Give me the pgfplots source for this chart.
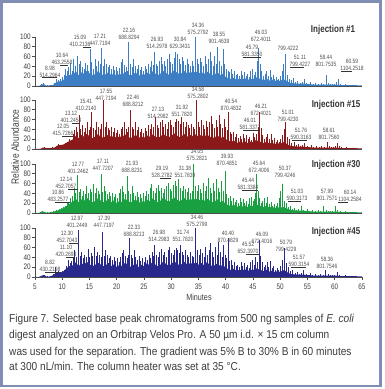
\documentclass[border=0pt]{standalone}
\usepackage{pgfplots}
\pgfplotsset{compat=1.18}
\usepackage{fontspec}
\setmainfont{Liberation Sans}
\newfontfamily\nf{Liberation Sans}[FakeStretch=0.8]
\newfontfamily\cf{Liberation Sans}[FakeStretch=0.88]
\definecolor{cA}{RGB}{60,125,195}
\definecolor{cB}{RGB}{140,25,25}
\definecolor{cC}{RGB}{25,160,65}
\definecolor{cD}{RGB}{40,40,140}
\definecolor{framec}{RGB}{128,142,180}
\definecolor{labc}{RGB}{80,80,80}
\definecolor{capc}{RGB}{60,60,60}
\pgfplotsset{panel/.style={scale only axis, width=327pt, height=49pt, xmin=5, xmax=65, ymin=0, ymax=100,
  axis x line=bottom, axis y line=left, axis line style={-, black!70, line width=0.6pt},
  ytick={0,20,...,100}, tick align=outside, major tick length=3pt, tick style={black!70, line width=0.6pt},
  yticklabel style={font=\nf\fontsize{8}{9}\selectfont, text=black!75, inner sep=1pt},
  xticklabel style={font=\nf\fontsize{8}{9}\selectfont, text=black!75},
  /pgf/number format/assume math mode=true, clip=false, anchor=south west},
  spk/.style={ycomb, line width=0.7pt, no marks}}
\tikzset{lab/.style={font=\nf\fontsize{6.2}{7}\selectfont, text=labc, align=center, inner sep=0pt},
  inj/.style={font=\nf\bfseries\fontsize{10}{12}\selectfont, text=black!80, inner sep=0pt},
  ld/.style={black!80, line width=0.5pt}}
\begin{document}
\begin{tikzpicture}[x=1pt,y=1pt]
\useasboundingbox (0,0) rectangle (384,389);
\draw[framec, line width=2.5pt] (1.5,3) rectangle (380.5,387.5);
% Panel 1
\begin{axis}[panel, at={(35pt,303pt)}, xtick=\empty]
\addplot[fill=cA, draw=none] coordinates {(5,0)(5.8,0.5)(6.2,3)(6.6,4)(7,1)(7.5,1)(8.3,2)(8.7,6)(9.2,9)(9.8,10)(10.4,14)(10.7,20)(11.2,22)(12,24)(12.5,30)(13,22)(13.5,28)(14,25)(14.5,31)(15,26)(15.5,22)(16,24)(16.5,30)(17,26)(17.5,22)(18,24)(18.5,29)(19,22)(19.5,26)(20,20)(20.5,25)(21,22)(21.5,29)(22,26)(22.5,21)(23,24)(23.5,28)(24,20)(24.5,25)(25,22)(25.5,28)(26,24)(26.5,30)(27,26)(27.5,22)(28,25)(28.5,31)(29,27)(29.5,23)(30,26)(30.5,32)(31,28)(31.5,24)(32,27)(32.5,31)(33,24)(33.5,29)(34,26)(34.5,30)(35,25)(35.5,29)(36,24)(36.5,30)(37,26)(37.5,22)(38,24)(38.5,28)(39,22)(39.5,25)(40,18)(40.5,16)(41,14)(41.5,17)(42,12)(42.5,15)(43,13)(43.5,16)(44,12)(44.5,15)(45,14)(45.5,18)(46,16)(46.5,14)(47,12)(47.5,15)(48,11)(48.5,13)(49,10)(49.5,12)(50,10)(50.5,14)(51,12)(51.5,8)(52,6)(53,5)(54,5)(55,4)(56,3)(57,3)(58,3)(59,3)(60,3)(61,2)(62,2)(63,2)(64,1.5)(65,1)} \closedcycle;
\addplot[spk, cA] coordinates {(6.1,4)(6.5,6)(7.3,3)(7.9,3)(8.5,6)(8.98,15)(9.3,12)(9.7,14)(10.1,18)(10.4,22)(10.64,35)(10.9,30)(11.2,38)(11.5,46)(11.8,30)(12.1,55)(12.4,40)(12.8,62)(13.1,45)(13.4,52)(13.7,38)(14.0,35)(14.3,46)(14.6,42)(14.85,30)(15.09,75)(15.4,48)(15.7,35)(16.0,56)(16.3,40)(16.6,50)(16.9,45)(17.21,78)(17.5,40)(17.8,55)(18.1,45)(18.4,38)(18.7,42)(19.0,35)(19.3,40)(19.6,32)(19.9,38)(20.2,30)(20.5,36)(20.8,48)(21.1,56)(21.4,42)(21.7,38)(21.95,30)(22.16,90)(22.5,45)(22.8,38)(23.1,55)(23.4,40)(23.7,35)(24.0,42)(24.3,32)(24.6,38)(24.9,30)(25.2,40)(25.5,35)(25.8,45)(26.1,38)(26.4,50)(26.7,42)(26.93,70)(27.2,45)(27.5,40)(27.8,52)(28.1,60)(28.4,45)(28.7,50)(29.0,40)(29.3,55)(29.6,65)(29.9,48)(30.2,45)(30.5,58)(30.84,70)(31.1,66)(31.4,55)(31.7,45)(32.0,60)(32.3,50)(32.6,42)(32.9,55)(33.2,45)(33.5,40)(33.8,50)(34.1,40)(34.36,100)(34.7,55)(35.0,45)(35.3,58)(35.6,48)(35.9,40)(36.2,62)(36.5,45)(36.8,55)(37.1,70)(37.4,50)(37.7,40)(38.0,62)(38.3,45)(38.55,80)(38.9,50)(39.2,40)(39.5,75)(39.8,45)(40.1,35)(40.4,30)(40.7,28)(41.0,35)(41.3,25)(41.6,30)(41.9,22)(42.2,25)(42.5,20)(42.8,30)(43.1,22)(43.4,28)(43.7,20)(44.0,25)(44.3,18)(44.6,30)(44.9,35)(45.2,22)(45.5,28)(45.79,50)(46.03,78)(46.3,45)(46.6,30)(46.9,20)(47.2,25)(47.5,30)(47.8,20)(48.1,32)(48.4,18)(48.7,22)(49.0,15)(49.3,18)(49.6,14)(50.0,20)(50.3,30)(50.6,45)(50.9,65)(51.3,22)(51.7,14)(52.0,12)(52.4,16)(52.8,8)(53.2,10)(53.6,6)(54.0,8)(54.4,14)(54.8,6)(55.2,5)(55.6,8)(56.0,5)(56.5,6)(57.0,5)(57.5,6)(58.0,5)(58.44,22)(58.8,6)(59.2,5)(59.6,4)(60.0,5)(60.3,8)(60.59,15)(61.0,4)(61.5,3)(62.0,5)(62.5,3)(63.0,3)(63.5,2)(64.0,3)};
\end{axis}
% Panel 2
\begin{axis}[panel, at={(35pt,240pt)}, xtick=\empty]
\addplot[fill=cB, draw=none] coordinates {(5,0)(6,0.5)(6.5,3)(7,2)(7.8,2)(8.6,3)(9.1,7)(9.6,8)(10.2,9)(10.8,13)(11.3,16)(12,20)(12.5,27)(13,22)(13.5,29)(14,25)(14.5,31)(15,26)(15.5,22)(16,25)(16.5,30)(17,26)(17.5,23)(18,26)(18.5,30)(19,24)(19.5,27)(20,22)(20.5,26)(21,24)(21.5,30)(22,26)(22.5,22)(23,25)(23.5,29)(24,22)(24.5,26)(25,23)(25.5,28)(26,25)(26.5,30)(27,26)(27.5,23)(28,25)(28.5,31)(29,27)(29.5,24)(30,26)(30.5,32)(31,28)(31.5,24)(32,27)(32.5,31)(33,25)(33.5,29)(34,26)(34.5,30)(35,25)(35.5,29)(36,24)(36.5,30)(37,26)(37.5,22)(38,24)(38.5,28)(39,22)(39.5,25)(40,20)(40.5,17)(41,15)(41.5,17)(42,12)(42.5,15)(43,13)(43.5,16)(44,12)(44.5,15)(45,14)(45.5,18)(46,16)(46.5,14)(47,12)(47.5,15)(48,11)(48.5,13)(49,10)(49.5,12)(50,10)(50.5,14)(51,12)(51.5,8)(52,6)(53,5)(54,5)(55,4)(56,3)(57,3)(58,3)(59,3)(60,3)(61,2)(62,2)(63,2)(64,1.5)(65,1)} \closedcycle;
\addplot[spk, cB] coordinates {(6.3,3)(6.8,5)(7.5,3)(8.2,4)(8.8,5)(9.3,10)(9.7,8)(10.1,9)(10.5,12)(10.9,15)(11.3,20)(11.6,18)(12.05,30)(12.3,38)(12.6,45)(12.85,35)(13.12,70)(13.4,40)(13.7,48)(14.0,35)(14.3,42)(14.6,55)(14.9,38)(15.15,45)(15.41,75)(15.7,42)(16.0,38)(16.3,55)(16.6,45)(16.9,40)(17.2,50)(17.55,100)(17.85,45)(18.1,55)(18.4,42)(18.7,38)(19.0,45)(19.3,35)(19.6,42)(19.9,32)(20.2,38)(20.5,30)(20.8,40)(21.1,45)(21.4,55)(21.7,40)(22.0,35)(22.2,45)(22.46,80)(22.8,45)(23.1,40)(23.4,55)(23.7,38)(24.0,45)(24.3,35)(24.6,40)(24.9,32)(25.2,42)(25.5,36)(25.8,48)(26.1,40)(26.4,52)(26.7,45)(27.13,65)(27.4,48)(27.7,42)(28.0,55)(28.3,60)(28.6,45)(28.9,50)(29.2,40)(29.5,55)(29.8,60)(30.1,48)(30.4,45)(30.7,55)(31.0,62)(31.3,58)(31.6,50)(31.92,65)(32.2,55)(32.5,45)(32.8,55)(33.1,48)(33.4,42)(33.7,52)(34.0,45)(34.3,40)(34.58,100)(34.9,55)(35.2,45)(35.5,60)(35.8,48)(36.1,40)(36.4,58)(36.7,45)(37.0,55)(37.3,68)(37.6,50)(37.9,42)(38.2,60)(38.5,45)(38.8,70)(39.1,50)(39.4,42)(39.7,62)(40.0,45)(40.25,38)(40.54,75)(40.8,35)(41.1,30)(41.4,35)(41.7,25)(42.0,30)(42.3,22)(42.6,26)(42.9,20)(43.2,30)(43.5,22)(43.8,28)(44.1,20)(44.4,25)(44.7,18)(45.0,32)(45.3,25)(45.6,30)(46.01,45)(46.21,75)(46.5,42)(46.8,28)(47.1,20)(47.4,25)(47.7,30)(48.0,20)(48.3,30)(48.6,18)(48.9,22)(49.2,15)(49.5,18)(49.8,14)(50.1,20)(50.4,28)(50.7,40)(51.01,55)(51.3,25)(51.76,20)(52.1,12)(52.5,15)(52.9,8)(53.3,10)(53.7,6)(54.1,8)(54.5,12)(54.9,6)(55.3,5)(55.7,8)(56.1,5)(56.6,6)(57.1,5)(57.6,6)(58.1,5)(58.61,15)(59.0,6)(59.4,5)(59.8,4)(60.2,6)(60.5,12)(60.8,6)(61.2,4)(61.7,3)(62.2,4)(62.7,3)(63.2,3)(63.7,2)(64.2,3)};
\end{axis}
% Panel 3
\begin{axis}[panel, at={(35pt,176pt)}, xtick=\empty]
\addplot[fill=cC, draw=none] coordinates {(5,0)(5.8,0.5)(6.2,3)(6.6,3)(7,1)(7.5,1)(8.3,2)(8.8,4)(9.4,6)(10,9)(10.5,12)(11,16)(11.5,20)(12,24)(12.5,29)(13,22)(13.5,28)(14,25)(14.5,31)(15,26)(15.5,22)(16,24)(16.5,30)(17,26)(17.5,22)(18,24)(18.5,29)(19,22)(19.5,26)(20,20)(20.5,25)(21,22)(21.5,29)(22,26)(22.5,21)(23,24)(23.5,28)(24,20)(24.5,25)(25,22)(25.5,28)(26,24)(26.5,30)(27,26)(27.5,22)(28,25)(28.5,31)(29,27)(29.5,23)(30,26)(30.5,32)(31,28)(31.5,24)(32,27)(32.5,31)(33,24)(33.5,29)(34,26)(34.5,30)(35,25)(35.5,29)(36,24)(36.5,30)(37,26)(37.5,22)(38,24)(38.5,28)(39,22)(39.5,25)(40,18)(40.5,16)(41,14)(41.5,17)(42,12)(42.5,15)(43,13)(43.5,16)(44,12)(44.5,15)(45,14)(45.5,18)(46,16)(46.5,14)(47,12)(47.5,15)(48,11)(48.5,13)(49,10)(49.5,12)(50,10)(50.5,13)(51,10)(51.5,8)(52,6)(53,5)(54,5)(55,4)(56,3)(57,3)(58,3)(59,3)(60,3)(61,2)(62,2)(63,2)(64,1.5)(65,1)} \closedcycle;
\addplot[spk, cC] coordinates {(6.0,3)(6.4,5)(7.2,3)(7.8,3)(8.4,4)(8.9,6)(9.4,8)(9.8,10)(10.2,12)(10.5,14)(10.86,20)(11.2,22)(11.5,30)(11.8,35)(12.14,50)(12.45,40)(12.77,78)(13.05,42)(13.3,48)(13.6,35)(13.9,45)(14.2,38)(14.5,55)(14.8,40)(15.1,48)(15.4,42)(15.7,60)(16.0,40)(16.3,50)(16.6,45)(16.85,38)(17.11,80)(17.4,42)(17.7,55)(18.0,45)(18.3,38)(18.6,42)(18.9,35)(19.2,40)(19.5,32)(19.8,38)(20.1,30)(20.4,40)(20.7,48)(21.0,55)(21.3,42)(21.6,38)(21.93,75)(22.2,45)(22.5,38)(22.8,55)(23.1,40)(23.4,35)(23.7,42)(24.0,32)(24.3,38)(24.6,30)(24.9,40)(25.2,35)(25.5,45)(25.8,38)(26.1,50)(26.4,60)(26.7,45)(27.0,40)(27.3,52)(27.6,58)(27.9,45)(28.2,50)(28.5,40)(28.8,48)(29.19,55)(29.5,62)(29.8,48)(30.1,45)(30.4,58)(30.7,65)(31.0,55)(31.38,70)(31.7,50)(32.0,45)(32.3,55)(32.6,48)(32.9,42)(33.2,50)(33.5,40)(33.8,45)(34.05,100)(34.4,55)(34.7,45)(35.0,58)(35.3,48)(35.6,40)(35.9,62)(36.2,45)(36.5,55)(36.8,72)(37.1,50)(37.4,40)(37.7,62)(38.0,45)(38.3,70)(38.6,50)(38.9,42)(39.2,65)(39.5,45)(39.93,85)(40.2,38)(40.5,30)(40.8,35)(41.1,25)(41.4,30)(41.7,22)(42.0,26)(42.3,20)(42.6,30)(42.9,22)(43.2,28)(43.5,20)(43.8,25)(44.1,18)(44.4,30)(44.7,32)(45.0,25)(45.2,28)(45.44,40)(45.64,80)(45.9,45)(46.2,30)(46.5,20)(46.8,25)(47.1,30)(47.4,20)(47.7,32)(48.0,18)(48.3,22)(48.6,15)(48.9,18)(49.2,14)(49.5,20)(49.8,30)(50.1,45)(50.37,60)(50.7,25)(51.03,20)(51.4,12)(51.8,15)(52.2,8)(52.6,10)(53.0,6)(53.4,8)(53.8,14)(54.2,6)(54.6,5)(55.0,8)(55.4,5)(55.9,6)(56.4,5)(56.9,6)(57.4,5)(57.99,15)(58.4,6)(58.8,5)(59.2,4)(59.6,5)(60.14,15)(60.5,6)(61.0,4)(61.5,3)(62.0,5)(62.5,3)(63.0,3)(63.5,2)(64.0,3)};
\end{axis}
% Panel 4
\begin{axis}[panel, at={(35pt,112pt)}, xtick={5,10,...,65}]
\addplot[fill=cD, draw=none] coordinates {(5,0)(5.8,0.5)(6.3,3)(6.7,4)(7.1,1)(7.6,1)(8.2,3)(8.6,6)(9.1,9)(9.7,9)(10.3,12)(10.8,18)(11.3,22)(12,24)(12.5,30)(13,22)(13.5,28)(14,25)(14.5,31)(15,26)(15.5,22)(16,24)(16.5,30)(17,26)(17.5,22)(18,24)(18.5,29)(19,22)(19.5,26)(20,20)(20.5,25)(21,22)(21.5,29)(22,26)(22.5,21)(23,24)(23.5,28)(24,20)(24.5,25)(25,22)(25.5,28)(26,24)(26.5,30)(27,26)(27.5,22)(28,25)(28.5,31)(29,27)(29.5,23)(30,26)(30.5,32)(31,28)(31.5,24)(32,27)(32.5,31)(33,24)(33.5,29)(34,26)(34.5,30)(35,25)(35.5,29)(36,24)(36.5,30)(37,26)(37.5,22)(38,24)(38.5,28)(39,22)(39.5,25)(40,18)(40.5,16)(41,14)(41.5,17)(42,12)(42.5,15)(43,13)(43.5,16)(44,12)(44.5,15)(45,14)(45.5,18)(46,16)(46.5,14)(47,12)(47.5,15)(48,11)(48.5,13)(49,10)(49.5,12)(50,10)(50.5,14)(51,12)(51.5,8)(52,6)(53,5)(54,5)(55,4)(56,3)(57,3)(58,3)(59,3)(60,3)(61,2)(62,2)(63,2)(64,1.5)(65,1)} \closedcycle;
\addplot[spk, cD] coordinates {(6.2,3)(6.6,5)(7.3,3)(7.9,3)(8.4,6)(8.82,20)(9.2,12)(9.6,10)(10.0,12)(10.4,15)(10.8,22)(11.10,35)(11.4,28)(11.7,32)(12.0,38)(12.30,55)(12.6,40)(12.97,95)(13.25,42)(13.5,50)(13.8,38)(14.1,45)(14.4,40)(14.7,58)(15.0,40)(15.3,48)(15.6,42)(15.9,62)(16.2,42)(16.5,50)(16.8,45)(17.1,40)(17.39,92)(17.7,42)(18.0,55)(18.3,45)(18.6,38)(18.9,42)(19.2,35)(19.5,40)(19.8,32)(20.1,38)(20.4,30)(20.7,40)(21.0,48)(21.3,55)(21.6,42)(21.9,38)(22.1,45)(22.33,80)(22.6,45)(22.9,38)(23.2,55)(23.5,40)(23.8,35)(24.1,42)(24.4,32)(24.7,38)(25.0,30)(25.3,40)(25.6,35)(25.9,45)(26.2,38)(26.5,50)(26.75,42)(26.98,65)(27.3,45)(27.6,40)(27.9,52)(28.2,58)(28.5,45)(28.8,50)(29.1,40)(29.4,55)(29.7,62)(30.0,48)(30.3,45)(30.6,56)(30.9,60)(31.2,55)(31.5,48)(31.74,65)(32.0,50)(32.3,45)(32.6,55)(32.9,45)(33.2,40)(33.5,50)(33.8,42)(34.1,40)(34.46,100)(34.8,55)(35.1,45)(35.4,58)(35.7,48)(36.0,40)(36.3,62)(36.6,45)(36.9,55)(37.2,70)(37.5,50)(37.8,40)(38.1,62)(38.4,45)(38.7,72)(39.0,50)(39.3,40)(39.6,65)(39.9,45)(40.15,38)(40.40,80)(40.7,32)(41.0,35)(41.3,25)(41.6,30)(41.9,22)(42.2,25)(42.5,20)(42.8,30)(43.1,22)(43.4,28)(43.7,20)(44.0,25)(44.3,18)(44.6,30)(44.9,35)(45.2,24)(45.52,40)(45.8,30)(46.09,75)(46.4,42)(46.7,30)(47.0,20)(47.3,25)(47.6,30)(47.9,20)(48.2,32)(48.5,18)(48.8,22)(49.1,15)(49.4,18)(49.7,14)(50.1,22)(50.4,35)(50.79,60)(51.1,28)(51.57,20)(51.9,12)(52.3,15)(52.7,8)(53.1,10)(53.5,6)(53.9,8)(54.3,14)(54.7,6)(55.1,5)(55.5,8)(55.9,5)(56.4,6)(56.9,5)(57.4,6)(57.9,5)(58.36,15)(58.8,6)(59.2,5)(59.6,4)(60.0,5)(60.5,10)(60.9,5)(61.4,3)(61.9,4)(62.4,3)(62.9,3)(63.4,2)(64.0,3)};
\end{axis}
% Peak annotations, panel 1
\node[lab] at (50,317) {8.98\\514.2964};
\node[lab] at (62,330) {10.64\\463.2558};
\node[lab] at (80,348) {15.09\\410.2136};
\node[lab] at (100,349.5) {17.21\\447.7194};
\node[lab] at (129,355.5) {22.16\\688.8294};
\node[lab] at (157,346.5) {26.93\\514.2978};
\node[lab] at (180,346.5) {30.84\\629.3431};
\node[lab] at (198,360.5) {34.36\\575.2792};
\node[lab] at (219,351.5) {38.55\\901.4639};
\node[lab] at (261,353.5) {46.03\\672.4011};
\node[lab] at (252,338) {45.79\\581.3350};
\node[lab] at (288,341) {799.4222};
\node[lab] at (300,328) {51.11\\799.4227};
\node[lab] at (326,328) {58.44\\801.7535};
\node[lab] at (352,324.5) {60.59\\1104.2518};
\node[inj] at (333,359) {Injection \#1};
\draw[ld] (42,311.5) -- (57,311.5);
\draw[ld] (60,323.5) -- (68,323.5);
\draw[ld] (83,341.5) -- (91,341.5);
\draw[ld] (243,331.5) -- (261,331.5);
\draw[ld] (290,321.5) -- (304,321.5);
\draw[ld] (341,318) -- (352,318);
% panel 2
\node[lab] at (63,259) {12.05\\415.7266};
\node[lab] at (71,272.5) {13.12\\401.2454};
\node[lab] at (86,284.5) {15.41\\410.2140};
\node[lab] at (106,294.5) {17.55\\447.7194};
\node[lab] at (133,288) {22.46\\688.8212};
\node[lab] at (158,276) {27.13\\514.2982};
\node[lab] at (182,278) {31.92\\551.7820};
\node[lab] at (198,296.5) {34.58\\575.2802};
\node[lab] at (231,284) {40.54\\870.4832};
\node[lab] at (261,279) {46.21\\672.4021};
\node[lab] at (250,265.5) {46.01\\581.3372};
\node[lab] at (288,273) {51.01\\799.4230};
\node[lab] at (301,255.5) {51.76\\590.3163};
\node[lab] at (329,255) {58.61\\801.7560};
\node[inj] at (336,284) {Injection \#15};
\draw[ld] (62,252.5) -- (73,252.5);
\draw[ld] (72,266) -- (79,266);
\draw[ld] (243,259) -- (260,259);
\draw[ld] (292,249) -- (307,249);
% panel 3
\node[lab] at (58,193.5) {10.86\\483.2577};
\node[lab] at (66,206) {12.14\\452.7057};
\node[lab] at (78,221) {12.77\\401.2462};
\node[lab] at (103,224) {17.11\\447.7207};
\node[lab] at (132,222.5) {21.93\\688.8231};
\node[lab] at (162,217.5) {29.19\\528.2782};
\node[lab] at (185,217) {31.38\\551.7839};
\node[lab] at (197,234) {34.05\\575.2821};
\node[lab] at (227,229) {39.93\\870.4851};
\node[lab] at (259,222.5) {45.64\\672.4006};
\node[lab] at (248,205) {45.44\\581.3384};
\node[lab] at (285,217.5) {50.37\\799.4246};
\node[lab] at (297,194.5) {51.03\\590.3173};
\node[lab] at (327,194.5) {57.99\\801.7571};
\node[lab] at (350,193) {60.14\\1104.2584};
\node[inj] at (336,224) {Injection \#30};
\draw[ld] (55,187) -- (70,187);
\draw[ld] (68,199.5) -- (78,199.5);
\draw[ld] (160,211) -- (171,211);
\draw[ld] (242,198.5) -- (258,198.5);
\draw[ld] (288,188) -- (301,188);
\draw[ld] (338,186.5) -- (348,186.5);
% panel 4
\node[lab] at (77,167.5) {12.97\\401.2449};
\node[lab] at (104,167.5) {17.39\\447.7197};
\node[lab] at (134,158) {22.33\\688.8213};
\node[lab] at (67,152) {12.30\\452.7043};
\node[lab] at (66,138) {11.10\\420.2693};
\node[lab] at (50,123) {8.82\\430.2198};
\node[lab] at (159,153) {26.98\\514.2983};
\node[lab] at (183,153) {31.74\\551.7820};
\node[lab] at (197,168) {34.46\\575.2799};
\node[lab] at (228,152.5) {40.40\\870.4829};
\node[lab] at (262,151.5) {46.09\\672.4016};
\node[lab] at (248,141) {45.52\\652.3970};
\node[lab] at (286,143.5) {50.79\\799.4229};
\node[lab] at (299,128) {51.57\\590.3154};
\node[lab] at (327,126.5) {58.36\\801.7546};
\node[inj] at (336,157) {Injection \#45};
\draw[ld] (45,116.5) -- (60,116.5);
\draw[ld] (66,131.5) -- (73,131.5) -- (73,127);
\draw[ld] (69,145.5) -- (78,145.5);
\draw[ld] (246,134.5) -- (259,134.5);
\draw[ld] (291,121.5) -- (306,121.5);
% axis titles
\node[rotate=90, font=\nf\fontsize{10.5}{12}\selectfont, text=black!75] at (15,242) {Relative Abundance};
\node[font=\nf\fontsize{9}{10}\selectfont, text=black!75] at (199,92) {Minutes};
% caption
\begin{scope}[every node/.style={anchor=base west, inner sep=0pt, text=capc, font=\cf\fontsize{11.5}{13}\selectfont}]
\node at (9,66) {Figure 7. Selected base peak chromatograms from 500 ng samples of \textit{E. coli}};
\node at (9,50) {digest analyzed on an Orbitrap Velos Pro. A 50 µm i.d. × 15 cm column};
\node at (9,34) {was used for the separation. The gradient was 5\% B to 30\% B in 60 minutes};
\node at (9,18) {at 300 nL/min. The column heater was set at 35 °C.};
\end{scope}
\end{tikzpicture}
\end{document}
